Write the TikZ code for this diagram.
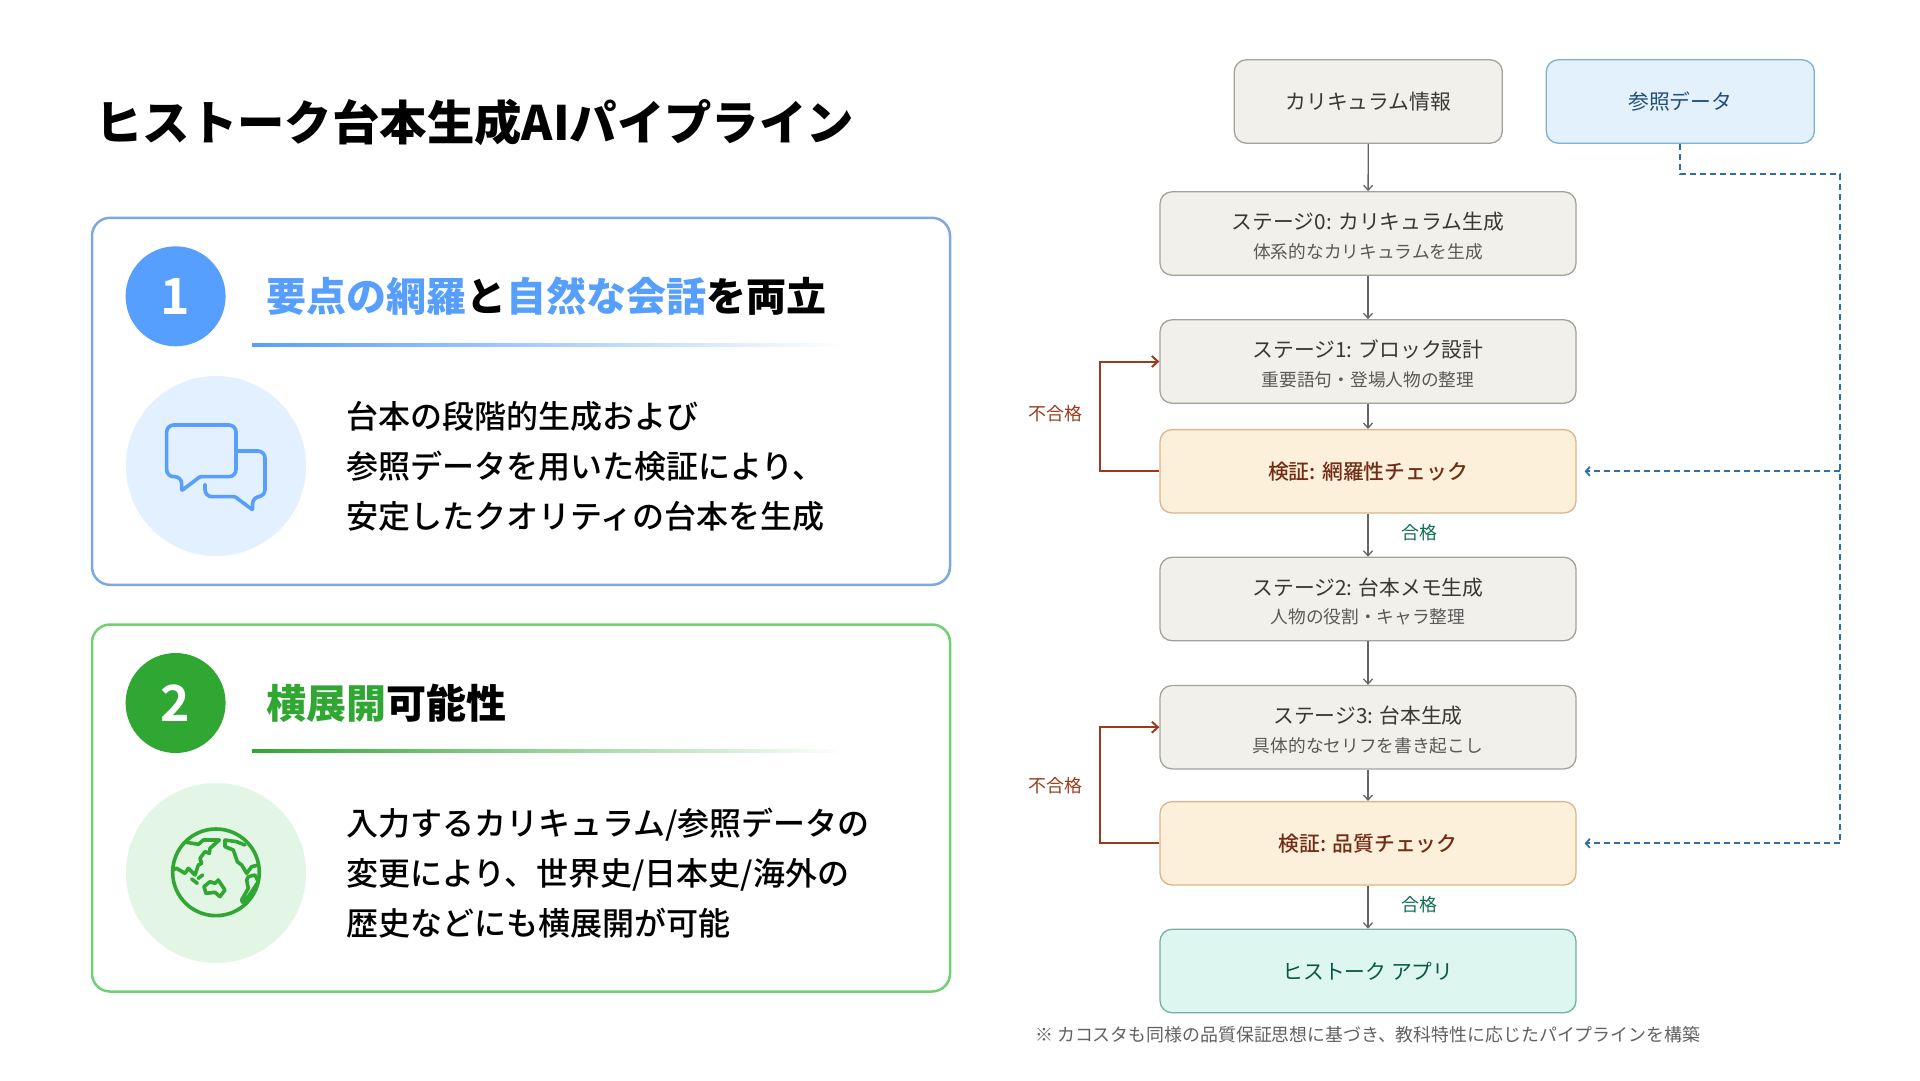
\documentclass[tikz,border=0pt]{standalone}
\usepackage{fontspec}
\setmainfont{Noto Sans CJK JP}[BoldFont={Noto Sans CJK JP Bold}]
\newfontfamily\blackfont{Noto Sans CJK JP Black}
\newfontfamily\mediumfont{Noto Sans CJK JP Medium}
\usetikzlibrary{arrows.meta}
\definecolor{blueA}{HTML}{569FFF}
\definecolor{blueB}{HTML}{7FA9DE}
\definecolor{blueC}{HTML}{E3F0FF}
\definecolor{greenA}{HTML}{2FA732}
\definecolor{greenB}{HTML}{72CF78}
\definecolor{greenC}{HTML}{E3F5E4}
\definecolor{stageFill}{HTML}{F1F0EA}
\definecolor{stageLine}{HTML}{A3A29C}
\definecolor{checkFill}{HTML}{FCF0DB}
\definecolor{checkLine}{HTML}{DDB58A}
\definecolor{refFill}{HTML}{E2F1FC}
\definecolor{refLine}{HTML}{7FAFD6}
\definecolor{appFill}{HTML}{DDF6EF}
\definecolor{appLine}{HTML}{75AFA5}
\definecolor{failCol}{HTML}{993C1D}
\definecolor{passCol}{HTML}{0F6E56}
\definecolor{busCol}{HTML}{2E6FA8}
\tikzset{
  panel/.style={draw,line width=2.5pt,rounded corners=18pt,minimum width=858pt,minimum height=367pt,inner sep=0pt},
  badge/.style={circle,minimum size=100pt,inner sep=0pt,text=white,font=\fontsize{50}{50}\selectfont\bfseries},
  disc/.style={circle,minimum size=180pt,inner sep=0pt},
  heading/.style={anchor=west,inner sep=0pt,font=\fontsize{40}{40}\selectfont\blackfont},
  bodytext/.style={anchor=west,inner sep=0pt,align=left,font=\fontsize{32}{50}\selectfont\mediumfont},
  flowbox/.style={draw,line width=1.3pt,rounded corners=12pt,minimum height=83.4pt,inner sep=0pt,align=center},
  stagebox/.style={flowbox,minimum width=416pt,fill=stageFill,draw=stageLine,text=black!78,font=\fontsize{20.8}{28.5}\selectfont},
  checkbox/.style={flowbox,minimum width=416pt,fill=checkFill,draw=checkLine,text=failCol!75!black,font=\fontsize{20.8}{30}\selectfont\mediumfont},
  flowline/.style={draw=black!60,line width=1.3pt,-{Straight Barb[length=5pt,width=9pt]}},
  failline/.style={draw=failCol,line width=2pt,-{Straight Barb[length=6pt,width=11pt]}},
  busline/.style={draw=busCol,line width=1.8pt,dash pattern=on 6pt off 4pt},
  edgetext/.style={inner sep=0pt,font=\fontsize{18}{18}\selectfont},
  icon/.style={line width=3.6pt,line join=round,line cap=round}
}
\newcommand{\stagetext}[2]{\rule{0pt}{22.7pt}#1\\{\fontsize{17.7}{18}\selectfont\color{black!65}#2}}
\begin{document}
\begin{tikzpicture}[x=1pt,y=-1pt]
\useasboundingbox (0,0) rectangle (1920,1080);
\fill[white] (0,0) rectangle (1920,1080);
\node[anchor=west,inner sep=0pt,font=\fontsize{47.4}{48}\selectfont\blackfont] (title) at (95,122.5) {ヒストーク台本生成AIパイプライン};
\node[panel,draw=blueB] (panelA) at (521,401.3) {};
\node[badge,fill=blueA] (badgeA) at (175.6,296.3) {1};
\node[heading] (headA) at (266.7,296.3) {\textcolor{blueA}{要点の網羅}と\textcolor{blueA}{自然な会話}を両立};
\fill[left color=blueA,middle color=blueA!45,right color=white] (252,343) rectangle (845,346);
\node[disc,fill=blueC] (discA) at (216,466) {};
\node[bodytext] (bodyA) at (346,466.6) {台本の段階的生成および\\参照データを用いた検証により、\\安定したクオリティの台本を生成};
\begin{scope}[shift={(120,370)},scale=0.3333,icon]
\draw[blueA,rounded corners=1pt] (185,320) -- (185,362) -- (240,320) [rounded corners=7pt] -- (348,320) -- (348,165) -- (140,165) -- (140,320) -- cycle;
\draw[blueA,rounded corners=7pt] (348,243) -- (435,243) -- (435,380) -- (398,380) [rounded corners=1pt] -- (398,420) -- (345,380) [rounded corners=7pt] -- (255,380) -- (255,343);
\end{scope}
\node[panel,draw=greenB] (panelB) at (521,808) {};
\node[badge,fill=greenA] (badgeB) at (175.6,703) {2};
\node[heading] (headB) at (266.7,703) {\textcolor{greenA}{横展開}可能性};
\fill[left color=greenA,middle color=greenA!45,right color=white] (252,749.7) rectangle (845,752.7);
\node[disc,fill=greenC] (discB) at (216,873) {};
\node[bodytext] (bodyB) at (346,873.3) {入力するカリキュラム/参照データの\\変更により、世界史/日本史/海外の\\歴史などにも横展開が可能};
\begin{scope}[shift={(120,785)},scale=0.3333,icon]
\draw[greenA] (288,262) circle (130);
\draw[greenA] (200,172) -- (235,178) -- (250,165) -- (298,165) -- (270,190) -- (268,205) -- (255,200) -- (240,220) -- (245,235) -- (235,240) -- (225,270) -- (205,250) -- (195,265) -- (170,250) -- (157,255);
\draw[greenA] (375,180) -- (350,170) -- (315,165) -- (315,185) -- (340,195) -- (352,230) -- (365,240) -- (380,265) -- (395,245) -- (415,240);
\draw[greenA] (385,275) -- (405,270) -- (415,290) -- (395,320) -- (385,335) -- (368,352) -- (365,345) -- (385,310) -- (380,285) -- cycle;
\draw[greenA] (215,282) -- (232,295);
\draw[greenA] (235,280) -- (248,270);
\draw[greenA] (270,290) -- (285,295) -- (295,285) -- (315,315) -- (300,335) -- (285,322) -- (258,325) -- (252,305) -- cycle;
\end{scope}
\node[flowbox,minimum width=268pt,fill=stageFill,draw=stageLine,text=black!78,font=\fontsize{20.8}{30}\selectfont] (curri) at (1368.3,101.5) {カリキュラム情報};
\node[flowbox,minimum width=268pt,fill=refFill,draw=refLine,text=busCol!70!black,font=\fontsize{20.8}{30}\selectfont] (refdata) at (1680.3,101.5) {参照データ};
\node[stagebox] (stageA) at (1368,233.5) {\stagetext{ステージ0: カリキュラム生成}{体系的なカリキュラムを生成}};
\node[stagebox] (stageB) at (1368,361.5) {\stagetext{ステージ1: ブロック設計}{重要語句・登場人物の整理}};
\node[checkbox] (checkA) at (1368,471.3) {検証: 網羅性チェック};
\node[stagebox] (stageC) at (1368,599) {\stagetext{ステージ2: 台本メモ生成}{人物の役割・キャラ整理}};
\node[stagebox] (stageD) at (1368,727.2) {\stagetext{ステージ3: 台本生成}{具体的なセリフを書き起こし}};
\node[checkbox] (checkB) at (1368,843.3) {検証: 品質チェック};
\node[flowbox,minimum width=416pt,fill=appFill,draw=appLine,text=passCol!80!black,font=\fontsize{20.8}{30}\selectfont] (app) at (1368,971) {ヒストーク アプリ};
\node[edgetext,text=failCol] (failA) at (1055.5,414) {不合格};
\node[edgetext,text=failCol] (failB) at (1055.5,786) {不合格};
\node[edgetext,text=passCol] (passA) at (1419,533) {合格};
\node[edgetext,text=passCol] (passB) at (1419,904.3) {合格};
\node[edgetext,text=black!62,anchor=west,font=\fontsize{17.9}{18}\selectfont] (note) at (1035,1034.3) {※ カコスタも同様の品質保証思想に基づき、教科特性に応じたパイプラインを構築};
\draw[flowline] (curri) -- (stageA);
\draw[flowline] (stageA) -- (stageB);
\draw[flowline] (stageB) -- (checkA);
\draw[flowline] (checkA) -- (stageC);
\draw[flowline] (stageC) -- (stageD);
\draw[flowline] (stageD) -- (checkB);
\draw[flowline] (checkB) -- (app);
\draw[failline] (checkA.west) -- ++(-59,0) |- (stageB.west);
\draw[failline] (checkB.west) -- ++(-59,0) |- (stageD.west);
\coordinate (busTop) at (1840.3,174);
\coordinate (busEnd) at (1840.3,843.3);
\draw[busline,shorten >=8pt,-{Straight Barb[length=4pt,width=9pt]}] (refdata.south) |- (busTop) -- (busEnd) -- (checkB.east);
\draw[busline,shorten >=8pt,-{Straight Barb[length=4pt,width=9pt]}] (busTop |- checkA.east) -- (checkA.east);
\end{tikzpicture}
\end{document}
